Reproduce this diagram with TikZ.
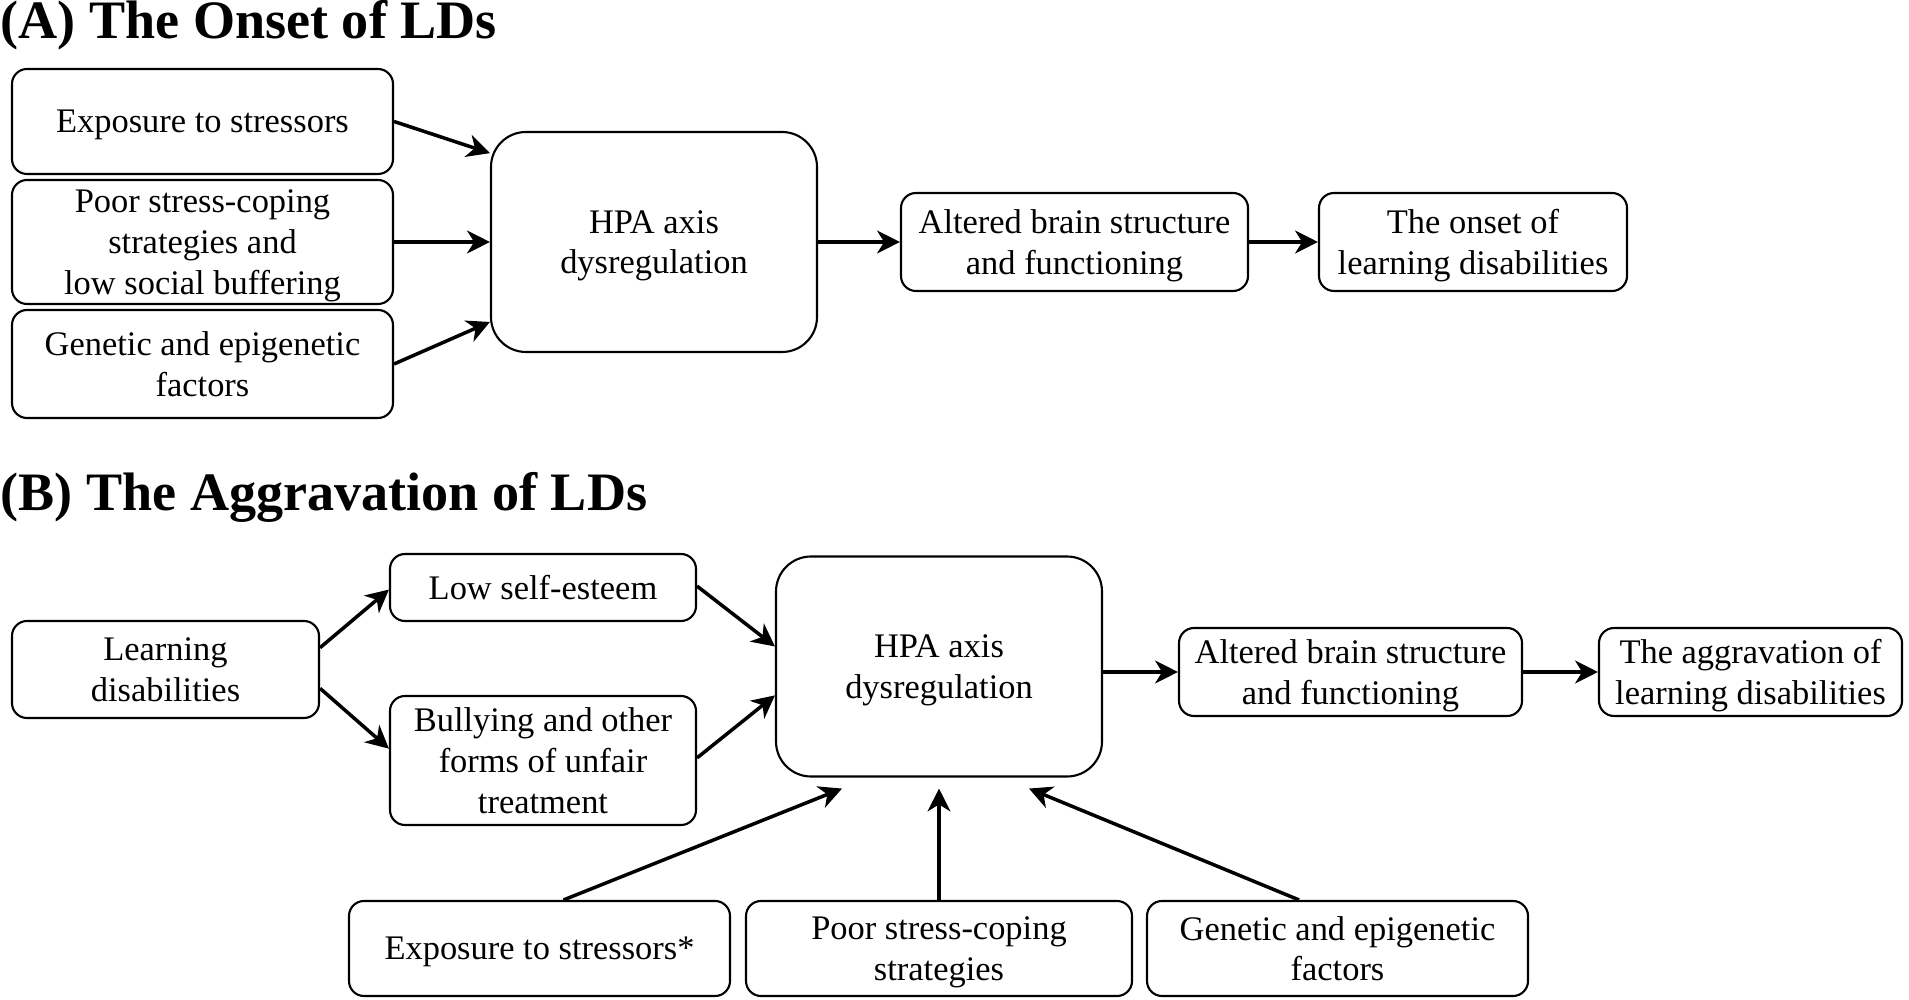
\documentclass[tikz,border=0pt]{standalone}
\usepackage{fontspec}
\setmainfont{Liberation Serif}
\usepackage{tikz}
\usetikzlibrary{arrows.meta}
\usetikzlibrary{calc}

\begin{document}
\begin{tikzpicture}[
  box/.style={draw, line width=0.6pt, rounded corners=0.15cm, align=center,
    inner sep=0pt, font=\fontsize{9.8}{11.6}\selectfont, text depth=-3pt},
  hpa/.style={box, rounded corners=0.35cm, minimum width=3.26cm, minimum height=2.2cm},
  arr/.style={-{Stealth[length=6.5pt,width=6.5pt,inset=2pt]}, line width=1pt},
  ttl/.style={anchor=base west, inner sep=0pt, font=\bfseries\fontsize{15.4}{18}\selectfont}
]
\useasboundingbox (0,0) rectangle (19.09,-10);

% (A) the onset
\node[ttl] (ttlA) at (0,-0.39) {(A) The Onset of LDs};
\node[box, minimum width=3.81cm, minimum height=1.05cm] (expA) at (2.025,-1.215) {Exposure to stressors};
\node[box, minimum width=3.81cm, minimum height=1.24cm] (poorA) at (2.025,-2.42) {Poor stress-coping\\strategies and\\low social buffering};
\node[box, minimum width=3.81cm, minimum height=1.08cm] (genA) at (2.025,-3.64) {Genetic and epigenetic\\factors};
\node[hpa] (hpaA) at (6.54,-2.42) {HPA axis\\dysregulation};
\node[box, minimum width=3.47cm, minimum height=0.98cm] (altA) at (10.745,-2.42) {Altered brain structure\\and functioning};
\node[box, minimum width=3.08cm, minimum height=0.98cm] (onsetA) at (14.73,-2.42) {The onset of\\learning disabilities};

% arrows into the HPA box
\foreach \n/\f in {expA/0.1, poorA/0.5, genA/0.86}
  \draw[arr] (\n.east) -- ($(hpaA.north west)!\f!(hpaA.south west)$);
\draw[arr] (hpaA) -- (altA);
\draw[arr] (altA) -- (onsetA);

% (B) the aggravation
\node[ttl] (ttlB) at (0,-5.11) {(B) The Aggravation of LDs};
\node[box, minimum width=3.07cm, minimum height=0.97cm] (learn) at (1.655,-6.695) {Learning\\disabilities};
\node[box, minimum width=3.06cm, minimum height=0.67cm] (lowse) at (5.43,-5.875) {Low self-esteem};
\node[box, minimum width=3.06cm, minimum height=1.29cm] (bully) at (5.43,-7.605) {Bullying and other\\forms of unfair\\treatment};
\node[hpa] (hpaB) at (9.39,-6.665) {HPA axis\\dysregulation};
\node[box, minimum width=3.43cm, minimum height=0.88cm] (altB) at (13.505,-6.72) {Altered brain structure\\and functioning};
\node[box, minimum width=3.03cm, minimum height=0.88cm] (aggr) at (17.505,-6.72) {The aggravation of\\learning disabilities};
\node[box, minimum width=3.81cm, minimum height=0.95cm] (expB) at (5.395,-9.485) {Exposure to stressors*};
\node[box, minimum width=3.86cm, minimum height=0.95cm] (poorB) at (9.39,-9.485) {Poor stress-coping\\strategies};
\node[box, minimum width=3.81cm, minimum height=0.95cm] (genB) at (13.375,-9.485) {Genetic and epigenetic\\factors};

\draw[arr] ($(learn.north east)!0.28!(learn.south east)$) -- ($(lowse.north west)!0.53!(lowse.south west)$);
\draw[arr] ($(learn.north east)!0.69!(learn.south east)$) -- ($(bully.north west)!0.41!(bully.south west)$);
\draw[arr] ($(lowse.north east)!0.48!(lowse.south east)$) -- ($(hpaB.north west)!0.41!(hpaB.south west)$);
\draw[arr] ($(bully.north east)!0.48!(bully.south east)$) -- ($(hpaB.north west)!0.63!(hpaB.south west)$);
\draw[arr] (hpaB.east |- altB) -- (altB);
\draw[arr] (altB) -- (aggr);

% arrows from below
\draw[arr] ([xshift=0.24cm]expB.north) -- ([xshift=-0.97cm,yshift=-0.11cm]hpaB.south);
\draw[arr] (poorB.north) -- ([yshift=-0.11cm]hpaB.south);
\draw[arr] ([xshift=-0.385cm]genB.north) -- ([xshift=0.9cm,yshift=-0.11cm]hpaB.south);
\end{tikzpicture}
\end{document}
